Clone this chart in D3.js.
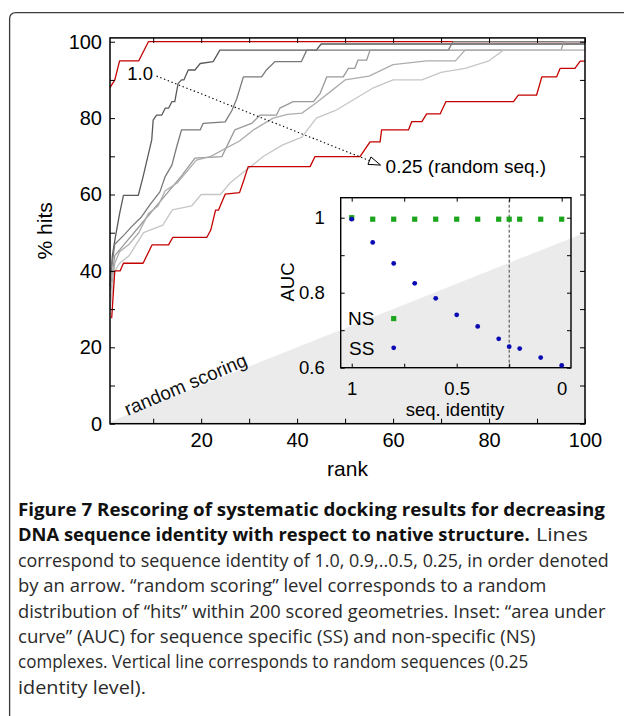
<!DOCTYPE html>
<html><head><meta charset="utf-8">
<script src="https://cdn.jsdelivr.net/npm/d3@7"></script>
<style>body{margin:0;background:#fff}svg{display:block}</style>
</head><body>
<svg id="c" width="624" height="716"></svg>
<script>
// ---------- DATA ----------
// main plot: % hits vs rank, one curve per sequence identity level
const identityLevels = ["1.0","0.9","0.8","0.7","0.6","0.5","0.25"];
const hits_100 = [[1,88],[2,90],[3,95],[7,95],[8,97.5],[9,100],[100,100]];
const hits_090 = [[1,36],[1.5,44],[2,48],[3,55],[3.8,59.8],[6.9,59.8],[7.9,64.7],[9.7,74.3],[10,79.5],[10.7,80.8],[11.8,80.8],[12.5,82.6],[13.2,82.6],[13.9,84.3],[14.5,84.3],[15.2,89.1],[15.9,90],[16.4,90],[17.3,92.6],[18.7,92.6],[19.8,94.3],[22.5,94.8],[23.9,97.8],[44,97.8],[45,99.4],[100,99.4]];
const hits_080 = [[1,38],[2,47],[4,49.5],[5.5,51.6],[7.6,54.2],[9.3,57.3],[11.4,60.7],[12.5,64.7],[13.9,67.7],[14.9,72.5],[15.9,76.9],[19.8,76.9],[20.4,78.6],[25,79],[26.4,82],[27.4,85],[28.8,90.8],[32.6,90.8],[33.6,92.6],[35.4,94.8],[40.9,94.8],[42,97.8],[71.5,97.8],[72.5,100],[100,100]];
const hits_070 = [[1,35],[2,44],[4,47],[6,50],[8,53],[10,56],[12,59],[14,62],[16,65],[18.7,69.5],[24.3,69.9],[26,74.3],[27,76.9],[30.5,78.6],[32.3,80.8],[35.7,80.8],[36.4,82.6],[39.2,84.3],[43.4,84.3],[44.8,86.5],[46.2,90.8],[49.6,90.8],[50.7,93],[52,93],[52.7,95.2],[54.5,95.2],[55.2,97.8],[95,97.8],[95.6,100],[100,100]];
const hits_060 = [[1,33],[2,42],[3,45],[5,47],[7,50],[9,55],[11,57],[12.5,61],[15,63],[17,66],[19,69],[22,70],[25,72],[28,74],[31,77],[35,80],[38,81],[41,81.3],[44,84],[47,87],[50,90],[55,91],[60,94],[67,95],[73,95],[75,97.8],[100,97.8]];
const hits_050 = [[1,30],[2,40],[3,42],[5,44],[8,50],[12,52],[14,56],[18,57],[20,60],[24,60],[26,63],[29,66],[33,70],[37,73],[41,75],[44,80],[48,82],[52,85],[56,88],[60,90],[66,90],[70,92],[75,93],[80,95],[83,97.8],[100,97.8]];
const hits_025 = [[1.35,27.6],[2,40],[3.1,40],[3.8,42],[7.9,42],[9.75,46.8],[13.2,46.8],[14.1,48.8],[21.2,48.8],[22,50.7],[23,55.9],[23.6,55.9],[25,60.1],[28,60.5],[28.8,63.4],[29.8,67.3],[42.7,67.3],[43.7,69.9],[53.1,69.9],[55.2,73.8],[57.3,73.8],[57.6,76.9],[63.2,76.9],[63.9,79.1],[66,79.1],[67,81.1],[69.8,81.1],[71,84.3],[85.1,84.3],[86.1,86],[89.9,86],[91,90.8],[94.1,90.8],[94.8,93],[97.9,93],[99,94.9],[100,94.9]];
const randomScoring = [[1,0.5],[100,50]];   // hits spread over 200 geometries
const xTicks = [10,20,30,40,50,60,70,80,90,100];
const xTickLabels = [20,40,60,80,100];
const yTicks = [0,10,20,30,40,50,60,70,80,90,100];
const yTickLabels = [0,20,40,60,80,100];

// inset: AUC vs sequence identity
const seqIdentity = [1,0.9,0.8,0.7,0.6,0.5,0.4,0.3,0.25,0.2,0.1,0];
const aucSS = [0.996,0.934,0.878,0.825,0.785,0.741,0.710,0.677,0.656,0.651,0.627,0.606];
const aucNS = [1.0,0.996,0.996,0.996,0.996,0.996,0.996,0.996,0.996,0.996,0.996,0.996];
const insetXTicks = [0,0.25,0.5,0.75,1];
const insetXLabels = [1,0.5,0];
const insetYTicks = [0.6,0.7,0.8,0.9,1.0];
const insetYLabels = [0.6,0.8,1.0];
const randomSeqLevel = 0.25;

const captionLines = [
  {parts:[{t:"Figure 7 Rescoring of systematic docking results for decreasing",b:true,x0:18,x1:605}]},
  {parts:[{t:"DNA sequence identity with respect to native structure.",b:true,x0:18,x1:530},{t:"Lines",b:false,x0:536,x1:588}]},
  {parts:[{t:"correspond to sequence identity of 1.0, 0.9,..0.5, 0.25, in order denoted",x0:18,x1:609}]},
  {parts:[{t:"by an arrow. \u201crandom scoring\u201d level corresponds to a random",x0:18,x1:547}]},
  {parts:[{t:"distribution of \u201chits\u201d within 200 scored geometries. Inset: \u201carea under",x0:18,x1:606}]},
  {parts:[{t:"curve\u201d (AUC) for sequence specific (SS) and non-specific (NS)",x0:18,x1:536}]},
  {parts:[{t:"complexes. Vertical line corresponds to random sequences (0.25",x0:18,x1:529}]},
  {parts:[{t:"identity level).",x0:18,x1:146}]}
];

// ---------- DRAW ----------
const svg = d3.select("#c");
const FONT = "'Liberation Sans', Arial, Helvetica, sans-serif";
const X0=110, X1=585, Y0=423.7, Y1=37.9;
const x = d3.scaleLinear().domain([1,100]).range([X0,X1]);
const y = d3.scaleLinear().domain([0,101]).range([Y0,Y1]);

// figure frame
svg.append("path").attr("d","M9.6,716 L9.6,19 Q9.6,12.6 16,12.6 L624,12.6")
  .attr("fill","none").attr("stroke","#3a3a3a").attr("stroke-width",1.3);

// random scoring area
svg.append("path").datum(randomScoring)
  .attr("d", d3.area().x(d=>x(d[0])).y0(y(0)).y1(d=>y(d[1])))
  .attr("fill","#ebebeb");
{
  const a = Math.atan2(y(0)-y(50), x(100)-x(1))*180/Math.PI;
  svg.append("text").attr("transform",`translate(${x(4.7)},${y(2)}) rotate(${-a-1})`)
    .attr("font-family",FONT).attr("font-size",19).attr("fill","#111").text("random scoring");
}

// curves
const series = [hits_100,hits_090,hits_080,hits_070,hits_060,hits_050,hits_025];
const colors = ["#c40000","#5a5a5a","#7a7a7a","#999999","#adadad","#c6c6c6","#c40000"];
const line = d3.line().x(d=>x(d[0])).y(d=>y(d[1]));
series.forEach((s,i)=>{
  svg.append("path").datum(s).attr("d",line).attr("fill","none")
    .attr("stroke",colors[i]).attr("stroke-width",1.3).attr("stroke-linejoin","round");
});

// axes
function styleAxis(g){ g.select(".domain").remove(); g.selectAll("line").attr("stroke","#000"); g.selectAll("text").attr("font-family",FONT).attr("fill","#000"); }
svg.append("g").attr("transform",`translate(${X0},0)`)
  .call(d3.axisLeft(y).tickValues(yTicks).tickSize(-5).tickSizeOuter(0).tickPadding(8)
    .tickFormat(d=>yTickLabels.includes(d)?d:""))
  .call(styleAxis).selectAll("text").attr("font-size",20);
svg.append("g").attr("transform",`translate(${X1},0)`)
  .call(d3.axisRight(y).tickValues(yTicks).tickSize(-5).tickSizeOuter(0).tickFormat(""))
  .call(styleAxis);
svg.append("g").attr("transform",`translate(0,${Y0})`)
  .call(d3.axisBottom(x).tickValues(xTicks).tickSize(-5).tickSizeOuter(0).tickPadding(9)
    .tickFormat(d=>xTickLabels.includes(d)?d:""))
  .call(styleAxis).selectAll("text").attr("font-size",20);
svg.append("g").attr("transform",`translate(0,${Y1})`)
  .call(d3.axisTop(x).tickValues(xTicks).tickSize(-5).tickSizeOuter(0).tickFormat(""))
  .call(styleAxis);
svg.append("rect").attr("x",X0).attr("y",Y1).attr("width",X1-X0).attr("height",Y0-Y1)
  .attr("fill","none").attr("stroke","#000").attr("stroke-width",1.5);

svg.append("text").attr("x",(X0+X1)/2).attr("y",476).attr("text-anchor","middle")
  .attr("font-family",FONT).attr("font-size",21).text("rank");
svg.append("text").attr("transform",`translate(52,${(Y0+Y1)/2}) rotate(-90)`).attr("text-anchor","middle")
  .attr("font-family",FONT).attr("font-size",21).text("% hits");

// arrow annotation
{
  const p0=[x(10.7),y(91)], p1=[x(57.4),y(67.7)];
  const dx=p1[0]-p0[0], dy=p1[1]-p0[1], L=Math.hypot(dx,dy), ux=dx/L, uy=dy/L;
  const hl=12, hw=4;
  const b=[p1[0]-ux*hl,p1[1]-uy*hl];
  svg.append("line").attr("x1",p0[0]).attr("y1",p0[1]).attr("x2",b[0]).attr("y2",b[1])
    .attr("stroke","#000").attr("stroke-width",1.1).attr("stroke-dasharray","1.4,2.6");
  svg.append("path").attr("d",`M${p1[0]},${p1[1]} L${b[0]-uy*hw},${b[1]+ux*hw} L${b[0]+uy*hw},${b[1]-ux*hw} Z`)
    .attr("fill","#fff").attr("stroke","#000").attr("stroke-width",1);
  svg.append("text").attr("x",x(4.6)).attr("y",y(90.1)).attr("font-family",FONT).attr("font-size",18.5).text(identityLevels[0]);
  svg.append("text").attr("x",p1[0]+5).attr("y",p1[1]+7.5).attr("font-family",FONT).attr("font-size",19).text(identityLevels[6]+" (random seq.)");
}

// ---------- INSET ----------
const ix = d3.scaleLinear().domain([1.0524,-0.0443]).range([340.7,571]);
const iy = d3.scaleLinear().domain([0.6,1.0533]).range([367.7,197.7]);
const IX0=ix.range()[0], IX1=ix.range()[1], IY0=iy.range()[0], IY1=iy.range()[1];
svg.append("line").attr("x1",ix(randomSeqLevel)).attr("x2",ix(randomSeqLevel)).attr("y1",IY0).attr("y2",IY1)
  .attr("stroke","#444").attr("stroke-width",1).attr("stroke-dasharray","3,2");
const fmt = d=> d===1?"1":(d===0?"0":String(d));
svg.append("g").attr("transform",`translate(${IX0},0)`)
  .call(d3.axisLeft(iy).tickValues(insetYTicks).tickSize(-4).tickSizeOuter(0).tickPadding(16)
    .tickFormat(d=>insetYLabels.some(v=>Math.abs(v-d)<1e-9)?fmt(d):""))
  .call(styleAxis).selectAll("text").attr("font-size",18.5);
svg.append("g").attr("transform",`translate(${IX1},0)`)
  .call(d3.axisRight(iy).tickValues(insetYTicks).tickSize(-4).tickSizeOuter(0).tickFormat(""))
  .call(styleAxis);
svg.append("g").attr("transform",`translate(0,${IY0})`)
  .call(d3.axisBottom(ix).tickValues(insetXTicks).tickSize(-4).tickSizeOuter(0).tickPadding(14)
    .tickFormat(d=>insetXLabels.includes(d)?fmt(d):""))
  .call(styleAxis).selectAll("text").attr("font-size",18.5);
svg.append("g").attr("transform",`translate(0,${IY1})`)
  .call(d3.axisTop(ix).tickValues(insetXTicks).tickSize(-4).tickSizeOuter(0).tickFormat(""))
  .call(styleAxis);
svg.append("rect").attr("x",IX0).attr("y",IY1).attr("width",IX1-IX0).attr("height",IY0-IY1)
  .attr("fill","none").attr("stroke","#000").attr("stroke-width",1.4);

const green="#1aa51a", blue="#0a0ab4";
svg.append("g").selectAll("rect").data(seqIdentity).join("rect")
  .attr("x",(d)=>ix(d)-2.6).attr("y",(d,i)=>iy(aucNS[i])-2.6).attr("width",5.2).attr("height",5.2).attr("fill",green);
svg.append("g").selectAll("circle").data(seqIdentity).join("circle")
  .attr("cx",d=>ix(d)).attr("cy",(d,i)=>iy(aucSS[i])).attr("r",2.4).attr("fill",blue);
// legend
svg.append("text").attr("x",348).attr("y",325).attr("font-family",FONT).attr("font-size",19).text("NS");
svg.append("rect").attr("x",ix(0.8)-2.6).attr("y",iy(0.731)-2.6).attr("width",5.2).attr("height",5.2).attr("fill",green);
svg.append("text").attr("x",349).attr("y",354.5).attr("font-family",FONT).attr("font-size",19).text("SS");
svg.append("circle").attr("cx",ix(0.8)).attr("cy",iy(0.653)).attr("r",2.4).attr("fill",blue);

svg.append("text").attr("transform","translate(294,282) rotate(-90)").attr("text-anchor","middle")
  .attr("font-family",FONT).attr("font-size",18.5).text("AUC");
svg.append("text").attr("x",455).attr("y",416).attr("text-anchor","middle")
  .attr("font-family",FONT).attr("font-size",18.5).text("seq. identity");

// ---------- CAPTION ----------
// each line is horizontally condensed (scaleX) so that it spans the same width as in the figure
const CF = "'Open Sans','Noto Sans',sans-serif";
captionLines.forEach((ln,i)=>{
  const yb = 516 + i*25.4;
  ln.parts.forEach(p=>{
    const t = svg.append("text").attr("x",0).attr("y",0).attr("font-family",CF).attr("font-size",18.5)
      .attr("font-weight",p.b?700:400).attr("fill",p.b?"#111":"#2a2a2a").text(p.t);
    const w = t.node().getComputedTextLength() || 1;
    t.attr("transform",`translate(${p.x0},${yb}) scale(${(p.x1-p.x0)/w},1)`);
  });
});
</script>
</body></html>
